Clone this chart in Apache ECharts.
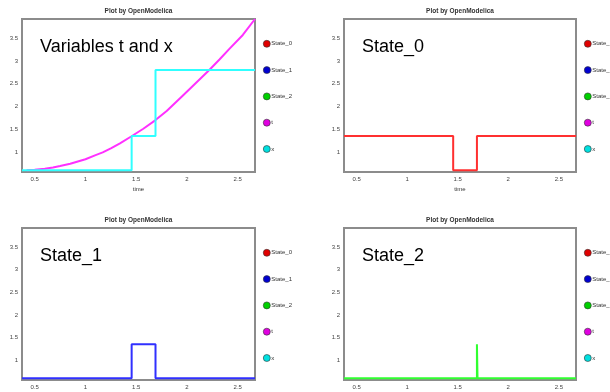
<!DOCTYPE html>
<html><head><meta charset="utf-8">
<script src="https://cdn.jsdelivr.net/npm/echarts@6/dist/echarts.min.js"></script>
<style>html,body{margin:0;padding:0;background:#fff}#c{width:610px;height:392px}</style>
</head><body><div id="c"></div>
<script>
// ---- data ----
const seriesNames = ['State_0', 'State_1', 'State_2', 't', 'x'];
const seriesColors = ['#ff3030', '#3030ff', '#30ff30', '#ff30ff', '#30ffff'];
const legendDot = ['#e00000', '#0000d0', '#00d000', '#e000e0', '#00e0e0'];
const panelLabels = ['Variables t and x', 'State_0', 'State_1', 'State_2'];
const xTicks = [0.5, 1, 1.5, 2, 2.5];
const yTicks = [1, 1.5, 2, 2.5, 3, 3.5];
const tTime = [0.42, 0.5, 0.6, 0.68, 0.75, 0.85, 1.0, 1.1, 1.17, 1.25, 1.34, 1.45, 1.57, 1.69, 1.8, 1.95, 2.08, 2.22, 2.32, 2.42, 2.55, 2.67];
const tValue = [0.6, 0.61, 0.63, 0.66, 0.69, 0.74, 0.84, 0.93, 0.99, 1.08, 1.19, 1.34, 1.51, 1.70, 1.90, 2.22, 2.50, 2.80, 3.03, 3.27, 3.57, 3.92];
const xTime = [0.375, 1.455, 1.69, 2.67];
const xValue = [0.6, 1.35, 2.8, 2.8];
const s0Time = [0.375, 1.455, 1.69, 2.67];
const s0Value = [1.35, 0.6, 1.35, 1.35];
const s1Time = [0.375, 1.455, 1.69, 2.67];
const s1Value = [0.6, 1.35, 0.6, 0.6];
const s2Time = [0.375, 1.69, 1.696, 2.67];
const s2Value = [0.6, 1.35, 0.6, 0.6];

const zip = (a, b) => a.map((v, i) => [v, b[i]]);
const FONT = 'Liberation Sans';

const grids = [
  {left: 22, top: 19, width: 233, height: 153},
  {left: 344, top: 19, width: 232, height: 153},
  {left: 22, top: 228, width: 233, height: 152},
  {left: 344, top: 228, width: 232, height: 152}
];

const chart = echarts.init(document.getElementById('c'));
const option = {
  animation: false,
  backgroundColor: '#fff',
  grid: grids.map(g => Object.assign({show: true, borderColor: '#8c8c8c', borderWidth: 2, backgroundColor: '#fff'}, g)),
  xAxis: grids.map((g, i) => ({
    type: 'value', gridIndex: i, min: 0.375, max: 2.67,
    name: i < 2 ? 'time' : '', nameLocation: 'middle', nameGap: 14,
    nameTextStyle: {fontSize: 6, color: '#333', fontFamily: FONT},
    axisLine: {show: false}, splitLine: {show: false},
    axisTick: {show: false},
    axisLabel: {customValues: xTicks, fontSize: 6, color: '#444', margin: 4, fontFamily: FONT}
  })),
  yAxis: grids.map((g, i) => ({
    type: 'value', gridIndex: i, min: 0.56, max: 3.92,
    axisLine: {show: false}, splitLine: {show: false},
    axisTick: {show: false},
    axisLabel: {customValues: yTicks, fontSize: 6, color: '#444', margin: 4, fontFamily: FONT}
  })),
  legend: grids.map(g => ({
    data: seriesNames.map((n, k) => ({name: n, itemStyle: {color: legendDot[k], borderColor: '#333', borderWidth: 0.6}})),
    orient: 'vertical', left: g.left + g.width + 3, top: g.top + 21 - 5,
    icon: 'circle', itemWidth: 7, itemHeight: 7, itemGap: 18.7,
    selectedMode: false,
    textStyle: {fontSize: 6, color: '#333', lineHeight: 7, fontFamily: FONT, padding: [0, 0, 0, -4]}
  })),
  graphic: grids.map((g, i) => [
    {type: 'text', x: g.left + g.width / 2, y: g.top - 8,
     style: {text: 'Plot by OpenModelica', font: 'bold 6.5px "Liberation Sans"', fill: '#333', align: 'center', verticalAlign: 'middle'}},
    {type: 'text', x: g.left + 18, y: g.top + 28,
     style: {text: panelLabels[i], font: '18px "Liberation Sans"', fill: '#000', align: 'left', verticalAlign: 'middle'}}
  ]).flat(),
  series: [
    {name: 't', type: 'line', xAxisIndex: 0, yAxisIndex: 0, data: zip(tTime, tValue), showSymbol: false,
     lineStyle: {color: seriesColors[3], width: 2}, itemStyle: {color: legendDot[3]}},
    {name: 'x', type: 'line', xAxisIndex: 0, yAxisIndex: 0, data: zip(xTime, xValue), step: 'end', showSymbol: false,
     lineStyle: {color: seriesColors[4], width: 2}, itemStyle: {color: legendDot[4]}},
    {name: 'State_0', type: 'line', xAxisIndex: 1, yAxisIndex: 1, data: zip(s0Time, s0Value), step: 'end', showSymbol: false,
     lineStyle: {color: seriesColors[0], width: 2}, itemStyle: {color: legendDot[0]}},
    {name: 'State_1', type: 'line', xAxisIndex: 2, yAxisIndex: 2, data: zip(s1Time, s1Value), step: 'end', showSymbol: false,
     lineStyle: {color: seriesColors[1], width: 2}, itemStyle: {color: legendDot[1]}},
    {name: 'State_2', type: 'line', xAxisIndex: 3, yAxisIndex: 3, data: zip(s2Time, s2Value), step: 'end', showSymbol: false,
     lineStyle: {color: seriesColors[2], width: 2}, itemStyle: {color: legendDot[2]}}
  ]
};
chart.setOption(option);
</script></body></html>
